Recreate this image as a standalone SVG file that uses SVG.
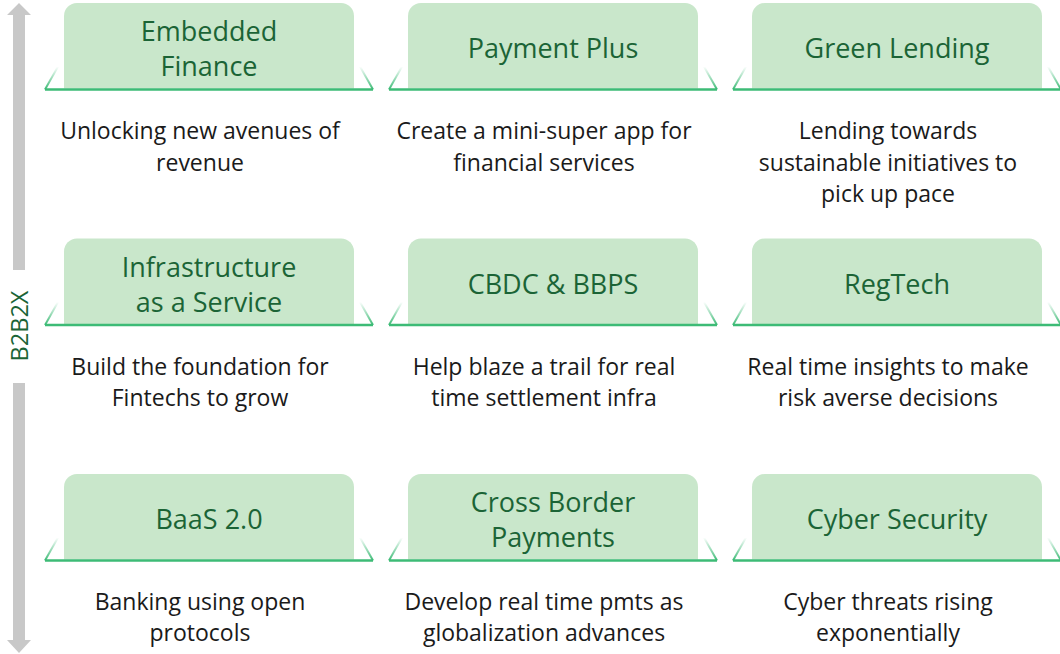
<svg xmlns="http://www.w3.org/2000/svg" xmlns:xlink="http://www.w3.org/1999/xlink" width="1060" height="654" viewBox="0 0 1060 654">
  <style>
    .tab-fill { fill: #C9E7CB; }
    .tab-base { stroke: #3DBB76; stroke-width: 2.5; fill: none; }
    .tab-slant { stroke: url(#fade); stroke-width: 2; fill: none; }
    .title { font-family: "Open Sans", "Noto Sans", sans-serif; font-size: 27px; fill: #1B6436; text-anchor: middle; }
    .desc { font-family: "Open Sans", "Noto Sans", sans-serif; font-size: 23px; fill: #1A1A1A; text-anchor: middle; }
    .axis { fill: #C8C8C8; }
    .axis-label { font-family: "Open Sans", "Noto Sans", sans-serif; font-size: 23.5px; fill: #1B6436; text-anchor: middle; }
  </style>
  <defs>
    <linearGradient id="fade" x1="0" y1="1" x2="0" y2="0">
      <stop offset="0" stop-color="#3DBB76" stop-opacity="1"/>
      <stop offset="1" stop-color="#3DBB76" stop-opacity="0"/>
    </linearGradient>
    <!-- tab: origin at the left end of the base line -->
    <g id="tab">
      <path class="tab-fill" d="M19,-1 V-73.5 A13,13 0 0 1 32,-86.5 H296 A13,13 0 0 1 309,-73.5 V-1 Z"/>
      <path class="tab-slant" d="M0,0 L13,-23"/>
      <path class="tab-slant" d="M328,0 L315,-23"/>
      <path class="tab-base" d="M0,0 H328"/>
    </g>
  </defs>

  <!-- vertical axis arrow -->
  <g id="axis">
    <path class="axis" d="M19,3 L31,15 H25 V270 H13 V15 H7 Z"/>
    <path class="axis" d="M13,383 H25 V640 H31 L19,653 L7,640 H13 Z"/>
    <text class="axis-label" transform="translate(27.5,326) rotate(-90)">B2B2X</text>
  </g>

  <!-- row 1 -->
  <g id="embedded-finance">
    <use xlink:href="#tab" x="45" y="89.5"/>
    <text class="title" x="209" y="41">Embedded</text>
    <text class="title" x="209" y="76">Finance</text>
    <text class="desc" x="200" y="139">Unlocking new avenues of</text>
    <text class="desc" x="200" y="170.5">revenue</text>
  </g>
  <g id="payment-plus">
    <use xlink:href="#tab" x="389" y="89.5"/>
    <text class="title" x="553" y="58">Payment Plus</text>
    <text class="desc" x="544" y="139">Create a mini-super app for</text>
    <text class="desc" x="544" y="170.5">financial services</text>
  </g>
  <g id="green-lending">
    <use xlink:href="#tab" x="733" y="89.5"/>
    <text class="title" x="897" y="58">Green Lending</text>
    <text class="desc" x="888" y="139">Lending towards</text>
    <text class="desc" x="888" y="170.5">sustainable initiatives to</text>
    <text class="desc" x="888" y="202">pick up pace</text>
  </g>

  <!-- row 2 -->
  <g id="infrastructure-as-a-service">
    <use xlink:href="#tab" x="45" y="325"/>
    <text class="title" x="209" y="277">Infrastructure</text>
    <text class="title" x="209" y="312">as a Service</text>
    <text class="desc" x="200" y="375">Build the foundation for</text>
    <text class="desc" x="200" y="406">Fintechs to grow</text>
  </g>
  <g id="cbdc-bbps">
    <use xlink:href="#tab" x="389" y="325"/>
    <text class="title" x="553" y="294">CBDC &amp; BBPS</text>
    <text class="desc" x="544" y="375">Help blaze a trail for real</text>
    <text class="desc" x="544" y="406">time settlement infra</text>
  </g>
  <g id="regtech">
    <use xlink:href="#tab" x="733" y="325"/>
    <text class="title" x="897" y="294">RegTech</text>
    <text class="desc" x="888" y="375">Real time insights to make</text>
    <text class="desc" x="888" y="406">risk averse decisions</text>
  </g>

  <!-- row 3 -->
  <g id="baas">
    <use xlink:href="#tab" x="45" y="560.5"/>
    <text class="title" x="209" y="529">BaaS 2.0</text>
    <text class="desc" x="200" y="610">Banking using open</text>
    <text class="desc" x="200" y="641">protocols</text>
  </g>
  <g id="cross-border-payments">
    <use xlink:href="#tab" x="389" y="560.5"/>
    <text class="title" x="553" y="512">Cross Border</text>
    <text class="title" x="553" y="547">Payments</text>
    <text class="desc" x="544" y="610">Develop real time pmts as</text>
    <text class="desc" x="544" y="641">globalization advances</text>
  </g>
  <g id="cyber-security">
    <use xlink:href="#tab" x="733" y="560.5"/>
    <text class="title" x="897" y="529">Cyber Security</text>
    <text class="desc" x="888" y="610">Cyber threats rising</text>
    <text class="desc" x="888" y="641">exponentially</text>
  </g>
</svg>
